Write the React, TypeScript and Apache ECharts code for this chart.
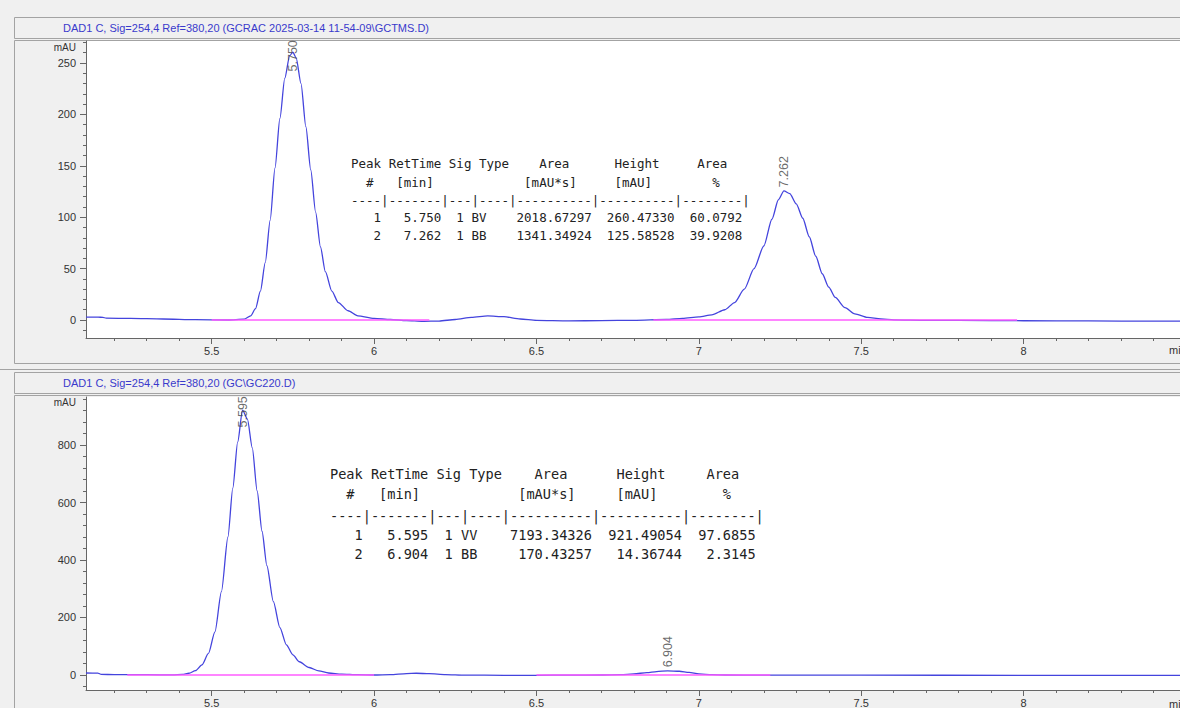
import React, { useEffect, useRef } from "react";
import * as echarts from "echarts";

const W = 1180;
const H = 708;

const topTitle = "DAD1 C, Sig=254,4 Ref=380,20 (GCRAC 2025-03-14 11-54-09\\GCTMS.D)";
const bottomTitle = "DAD1 C, Sig=254,4 Ref=380,20 (GC\\GC220.D)";

// chromatogram traces: [time (min), signal (mAU)]
const topTrace: [number, number][] = [
  [5.113, 2.8], [5.15, 2.8], [5.165, 2.6], [5.175, 1.8], [5.25, 1.5], [5.35, 1.0], [5.45, 0.3],
  [5.55, 0], [5.6, 0.8], [5.62, 4], [5.635, 11], [5.65, 28], [5.665, 56], [5.68, 97], [5.695, 148],
  [5.71, 196], [5.725, 235], [5.74, 257], [5.75, 260.5], [5.76, 255], [5.775, 230], [5.79, 188],
  [5.805, 146], [5.82, 105], [5.835, 71], [5.85, 47], [5.87, 28], [5.89, 17], [5.92, 9], [5.95, 4],
  [6.0, 1.5], [6.05, 0.5], [6.1, -0.5], [6.15, -1.3], [6.2, -1.0], [6.25, 0.5], [6.3, 2.5],
  [6.35, 4], [6.4, 3.2], [6.45, 1], [6.5, -0.3], [6.6, -0.8], [6.7, -0.6], [6.8, -0.3], [6.9, 0.5],
  [6.95, 1.5], [7.0, 3], [7.04, 5], [7.08, 10], [7.11, 17], [7.14, 30], [7.17, 50], [7.2, 72],
  [7.225, 98], [7.245, 117], [7.262, 125.6], [7.28, 123], [7.3, 113], [7.32, 99], [7.34, 81],
  [7.36, 62], [7.38, 45], [7.4, 32], [7.42, 22], [7.45, 12], [7.48, 6], [7.52, 2.5], [7.56, 1],
  [7.6, 0.2], [7.7, -0.3], [7.9, -0.6], [8.1, -0.8], [8.3, -1], [8.5, -1.2],
];

const bottomTrace: [number, number][] = [
  [5.113, 7], [5.15, 6.5], [5.16, 2], [5.2, 1.5], [5.3, 1], [5.38, 0.5], [5.41, 2], [5.43, 6],
  [5.45, 15], [5.47, 35], [5.49, 75], [5.51, 150], [5.53, 290], [5.55, 480], [5.565, 650],
  [5.58, 810], [5.595, 921.5], [5.61, 890], [5.625, 790], [5.64, 640], [5.655, 500], [5.67, 380],
  [5.69, 255], [5.71, 165], [5.73, 105], [5.75, 70], [5.77, 46], [5.8, 26], [5.83, 14], [5.86, 7],
  [5.9, 3], [5.95, 1], [6.0, 0], [6.05, 1.5], [6.1, 5], [6.13, 6], [6.17, 4.5], [6.22, 1.5],
  [6.28, -0.5], [6.4, -1], [6.5, -1], [6.6, -0.5], [6.7, 0], [6.76, 1], [6.8, 4], [6.84, 8],
  [6.87, 12], [6.904, 14.4], [6.94, 13], [6.97, 9], [7.0, 4], [7.04, 1], [7.08, 0], [7.2, -0.5],
  [7.5, -0.8], [8.0, -1], [8.5, -1],
];

// integration baselines (start, end in min)
const topBaselines: [number, number][] = [[5.5, 6.17], [6.86, 7.98]];
const bottomBaselines: [number, number][] = [[5.24, 6.0], [6.5, 7.22]];

// peak tables
const topPeakNo = [1, 2];
const topRet = [5.75, 7.262];
const topSig = [1, 1];
const topType = ["BV", "BB"];
const topArea = [2018.67297, 1341.34924];
const topHeight = [260.4733, 125.58528];
const topPct = [60.0792, 39.9208];

const bottomPeakNo = [1, 2];
const bottomRet = [5.595, 6.904];
const bottomSig = [1, 1];
const bottomType = ["VV", "BB"];
const bottomArea = [7193.34326, 170.43257];
const bottomHeight = [921.49054, 14.36744];
const bottomPct = [97.6855, 2.3145];

// axes
const X_MIN = 5.113;
const X_MAX = 8.5;
const xMajor = [5.5, 6, 6.5, 7, 7.5, 8];
const TOP_Y_MIN = -17.5;
const TOP_Y_MAX = 271.4;
const topYMajor = [0, 50, 100, 150, 200, 250];
const BOT_Y_MIN = -52.2;
const BOT_Y_MAX = 967;
const bottomYMajor = [0, 200, 400, 600, 800];

const steps = (a: number, b: number, s: number) => {
  const out: number[] = [];
  for (let v = a; v <= b + 1e-9; v += s) out.push(Math.round(v * 1000) / 1000);
  return out;
};
const xMinor = steps(5.2, 8.5, 0.1);
const topYMinor = steps(-10, 270, 10);
const bottomYMinor = steps(-40, 960, 40);

const HEAD1 = "Peak RetTime Sig Type    Area      Height     Area";
const HEAD2 = "  #   [min]" + " ".repeat(12) + "[mAU*s]" + " ".repeat(5) + "[mAU]" + " ".repeat(8) + "%";
const SEP = "----|-------|---|----|----------|----------|--------|";

const row = (n: number, ret: number, sig: number, type: string, area: number, h: number, pct: number) =>
  String(n).padStart(4) +
  ret.toFixed(3).padStart(8) +
  String(sig).padStart(3) +
  " " +
  type.padEnd(2) +
  area.toFixed(5).padStart(14) +
  h.toFixed(5).padStart(11) +
  pct.toFixed(4).padStart(9);

const tableLines = (
  no: number[], ret: number[], sig: number[], type: string[], area: number[], h: number[], pct: number[]
) => [HEAD1, HEAD2, SEP, ...no.map((n, i) => row(n, ret[i], sig[i], type[i], area[i], h[i], pct[i]))];

const nb = (s: string) => s.replace(/ /g, "\u00A0");

const BLUE = "#4444dd";
const PINK = "#ff5cff";
const AXIS = "#666";
const LABEL = "#333";
const SANS = "'Liberation Sans', Arial, sans-serif";
const MONO = "'DejaVu Sans Mono', 'Liberation Mono', monospace";

const GRID_LEFT = 86;
const GRID_W = 1100;
const TOP_GRID = { top: 41, height: 297 };
const BOT_GRID = { top: 397, height: 293 };

function App() {
  const ref = useRef<HTMLDivElement>(null);

  useEffect(() => {
    if (!ref.current) return;
    const chart = echarts.init(ref.current, null, { renderer: "svg", width: W, height: H });

    const xAxes = (gridIndex: number) => [
      {
        type: "value", gridIndex, min: X_MIN, max: X_MAX, position: "bottom",
        axisLine: { show: true, onZero: false, lineStyle: { color: AXIS, width: 1 } },
        axisTick: { show: true, customValues: xMajor, length: 6, lineStyle: { color: AXIS } },
        axisLabel: { show: true, customValues: xMajor, margin: 7, fontSize: 11, color: LABEL, fontFamily: SANS },
        splitLine: { show: false },
      },
      {
        type: "value", gridIndex, min: X_MIN, max: X_MAX, position: "bottom",
        axisLine: { show: false, onZero: false },
        axisTick: { show: true, customValues: xMinor, length: 3, lineStyle: { color: AXIS } },
        axisLabel: { show: false },
        splitLine: { show: false },
      },
    ];
    const yAxes = (gridIndex: number, min: number, max: number, major: number[], minor: number[]) => [
      {
        type: "value", gridIndex, min, max, position: "left",
        axisLine: { show: true, onZero: false, lineStyle: { color: AXIS, width: 1 } },
        axisTick: { show: true, customValues: major, length: 6, lineStyle: { color: AXIS } },
        axisLabel: { show: true, customValues: major, margin: 10, fontSize: 11, color: LABEL, fontFamily: SANS },
        splitLine: { show: false },
      },
      {
        type: "value", gridIndex, min, max, position: "left",
        axisLine: { show: false, onZero: false },
        axisTick: { show: true, customValues: minor, length: 3, lineStyle: { color: AXIS } },
        axisLabel: { show: false },
        splitLine: { show: false },
      },
    ];

    const topPx = TOP_GRID.height / (TOP_Y_MAX - TOP_Y_MIN);
    const botPx = BOT_GRID.height / (BOT_Y_MAX - BOT_Y_MIN);
    const LABEL_LEN = 34;

    const traceSeries = (xi: number, yi: number, data: [number, number][]) => ({
      type: "line", xAxisIndex: xi, yAxisIndex: yi, data, showSymbol: false, symbol: "none",
      smooth: 0.25, smoothMonotone: "x", z: 3,
      lineStyle: { color: BLUE, width: 1.3 }, silent: true,
    });
    const baseSeries = (xi: number, yi: number, segs: [number, number][]) =>
      segs.map(([a, b]) => ({
        type: "line", xAxisIndex: xi, yAxisIndex: yi, data: [[a, 0], [b, 0]], showSymbol: false,
        symbol: "none", z: 4, lineStyle: { color: PINK, width: 1.3 }, silent: true,
      }));
    const peakLabels = (xi: number, yi: number, ret: number[], h: number[], yMax: number, px: number) => ({
      type: "scatter", xAxisIndex: xi, yAxisIndex: yi, symbolSize: 1, z: 5, silent: true,
      itemStyle: { color: "rgba(0,0,0,0)" },
      data: ret.map((t, i) => [t, Math.min(h[i], yMax - LABEL_LEN / px)]),
      label: {
        show: true, position: "top", distance: 3, rotate: 90, align: "left", verticalAlign: "middle",
        fontSize: 12.5, color: "#444", fontFamily: SANS,
        formatter: (p: any) => Number(p.value[0]).toFixed(3),
      },
    });

    const texts = (lines: string[], x: number, ys: number[], size: number) =>
      lines.map((t, i) => ({
        type: "text", x, y: ys[i], silent: true,
        style: {
          text: nb(t), fontSize: size, fontFamily: MONO, fill: "#222",
          textAlign: "left", textVerticalAlign: "middle",
        },
      }));

    const boxStroke = "#a3a3a3";
    const rect = (x: number, y: number, w: number, h: number) => ({
      type: "rect", shape: { x: x + 0.5, y: y + 0.5, width: w, height: h }, silent: true,
      style: { fill: "none", stroke: boxStroke, lineWidth: 1 },
    });
    const hline = (y: number) => ({
      type: "line", shape: { x1: 0, y1: y + 0.5, x2: W, y2: y + 0.5 }, silent: true,
      style: { stroke: boxStroke, lineWidth: 1 },
    });
    const label = (text: string, x: number, y: number, size: number, color: string, align = "left") => ({
      type: "text", x, y, silent: true,
      style: { text, fontSize: size, fontFamily: SANS, fill: color, textAlign: align, textVerticalAlign: "middle" },
    });

    const gridCommon = {
      left: GRID_LEFT, width: GRID_W, show: true, backgroundColor: "#ffffff", borderWidth: 0,
      containLabel: false, outerBoundsMode: "none",
    };

    const option: any = {
      animation: false,
      backgroundColor: "#f0f0f0",
      grid: [
        { ...gridCommon, top: TOP_GRID.top, height: TOP_GRID.height },
        { ...gridCommon, top: BOT_GRID.top, height: BOT_GRID.height },
      ],
      xAxis: [...xAxes(0), ...xAxes(1)],
      yAxis: [
        ...yAxes(0, TOP_Y_MIN, TOP_Y_MAX, topYMajor, topYMinor),
        ...yAxes(1, BOT_Y_MIN, BOT_Y_MAX, bottomYMajor, bottomYMinor),
      ],
      series: [
        traceSeries(0, 0, topTrace),
        ...baseSeries(0, 0, topBaselines),
        peakLabels(0, 0, topRet, topHeight, TOP_Y_MAX, topPx),
        traceSeries(2, 2, bottomTrace),
        ...baseSeries(2, 2, bottomBaselines),
        peakLabels(2, 2, bottomRet, bottomHeight, BOT_Y_MAX, botPx),
      ],
      graphic: [
        rect(14, 17, 1200, 21),
        rect(14, 40, 1200, 323),
        hline(369),
        rect(14, 372, 1200, 21),
        rect(14, 395, 1200, 340),
        label(topTitle, 63, 27.5, 11, "#3a3acc"),
        label(bottomTitle, 63, 382.5, 11, "#3a3acc"),
        label("mAU", 76, 47, 10, LABEL, "right"),
        label("mAU", 76, 402, 10, LABEL, "right"),
        label("min", 1169, 350, 11, LABEL),
        label("min", 1169, 703.5, 11, LABEL),
        ...texts(tableLines(topPeakNo, topRet, topSig, topType, topArea, topHeight, topPct), 351, [163, 182, 200, 217, 235], 12.5),
        ...texts(tableLines(bottomPeakNo, bottomRet, bottomSig, bottomType, bottomArea, bottomHeight, bottomPct), 330, [474, 494, 516, 535, 554], 13.6),
      ],
    };

    chart.setOption(option);
    return () => chart.dispose();
  }, []);

  return (
    <div
      ref={ref}
      style={{ position: "absolute", left: 0, top: 0, width: W, height: H, background: "#f0f0f0" }}
    />
  );
}

export default App;
